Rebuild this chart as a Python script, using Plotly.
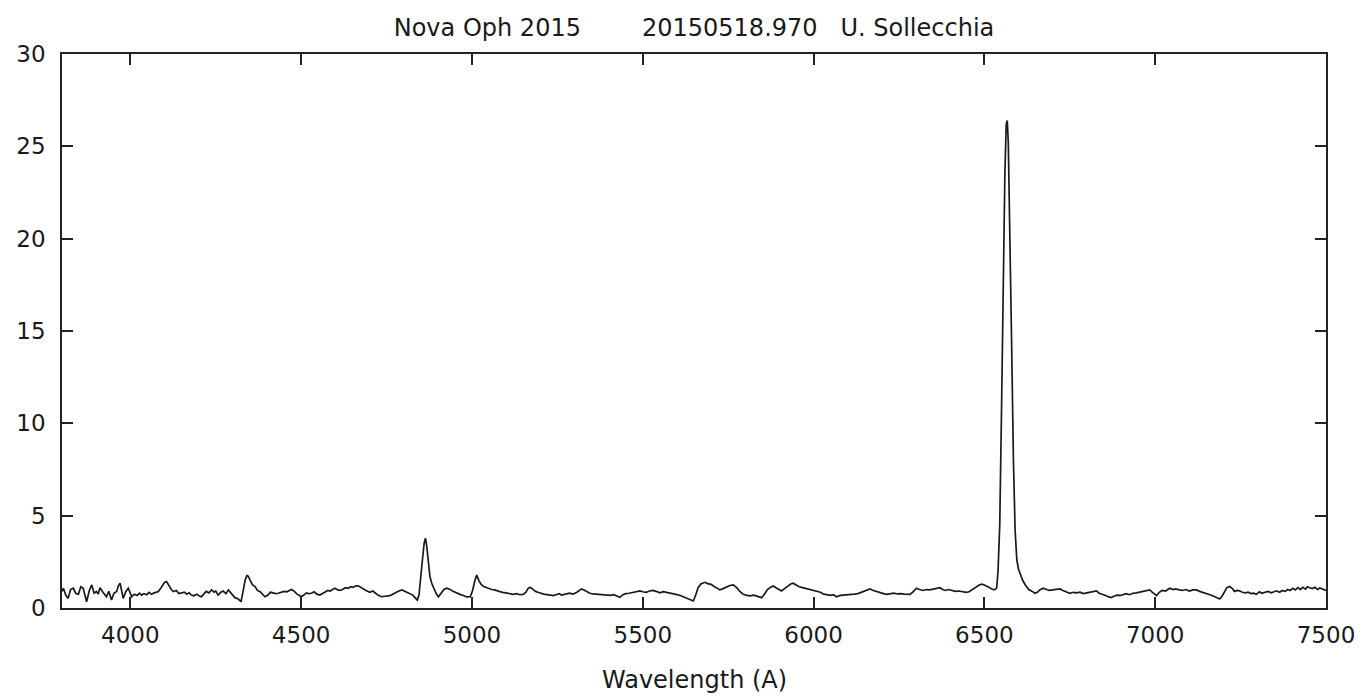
import plotly.graph_objects as go

wavelength = [
3800,3804,3811,3818,3825,3833,3840,3848,3855,3862,3867,3872,3880,3887,3894,3901,3906,3911,3920,3930,
3937,3945,3952,3960,3965,3970,3975,3979,3987,3994,3999,4004,4012,4020,4027,4033,4040,4048,4055,4062,
4070,4082,4090,4100,4106,4113,4120,4126,4135,4142,4150,4158,4165,4172,4179,4186,4195,4201,4208,4215,
4222,4230,4238,4245,4250,4257,4265,4272,4280,4287,4294,4300,4306,4315,4324,4330,4336,4341,4345,4352,
4358,4365,4372,4380,4387,4394,4403,4410,4418,4425,4433,4440,4450,4458,4465,4472,4480,4488,4495,4501,
4508,4515,4522,4530,4538,4546,4555,4562,4569,4578,4585,4592,4599,4607,4615,4622,4630,4638,4645,4652,
4660,4667,4675,4683,4690,4701,4710,4718,4725,4735,4745,4752,4760,4768,4777,4786,4795,4803,4811,4819,
4827,4834,4840,4845,4850,4855,4860,4864,4868,4872,4877,4883,4890,4896,4902,4910,4918,4926,4935,4943,
4950,4958,4965,4975,4985,4995,5002,5008,5014,5020,5026,5034,5042,5050,5058,5066,5074,5082,5090,5100,
5110,5121,5130,5140,5150,5158,5164,5170,5178,5186,5193,5199,5210,5220,5230,5238,5246,5255,5262,5270,
5277,5286,5295,5305,5314,5321,5328,5336,5345,5355,5365,5375,5385,5394,5405,5415,5425,5433,5442,5450,
5460,5470,5480,5492,5500,5510,5520,5530,5541,5550,5560,5570,5580,5590,5600,5610,5619,5630,5640,5648,
5655,5662,5670,5682,5690,5700,5710,5718,5726,5735,5745,5755,5765,5775,5785,5794,5805,5815,5825,5835,
5842,5848,5856,5865,5874,5882,5890,5898,5906,5915,5925,5933,5940,5948,5958,5968,5978,5990,5999,6010,
6020,6030,6040,6050,6058,6067,6078,6090,6100,6110,6120,6130,6140,6150,6160,6165,6175,6185,6195,6205,
6214,6225,6235,6245,6255,6265,6275,6282,6290,6301,6310,6320,6330,6340,6350,6360,6370,6378,6386,6395,
6405,6415,6425,6435,6447,6455,6465,6475,6485,6492,6500,6510,6518,6526,6532,6536,6540,6545,6550,6555,
6560,6564,6567,6570,6575,6580,6585,6590,6595,6600,6606,6612,6620,6630,6640,6648,6655,6662,6672,6680,
6690,6700,6710,6721,6730,6740,6750,6760,6770,6780,6790,6800,6810,6820,6828,6836,6845,6855,6864,6872,
6880,6890,6898,6906,6915,6925,6935,6945,6955,6965,6975,6984,6992,7000,7004,7012,7020,7030,7038,7043,
7052,7060,7070,7080,7090,7100,7110,7121,7130,7140,7150,7160,7170,7180,7189,7196,7203,7210,7218,7226,
7232,7240,7247,7255,7264,7272,7280,7288,7296,7305,7312,7320,7330,7340,7348,7355,7364,7372,7380,7388,
7395,7403,7410,7418,7425,7432,7440,7446,7452,7460,7468,7475,7482,7490,7496,7500,
]

flux = [
0.90,1.07,0.70,0.52,1.00,1.07,0.80,0.74,1.15,1.07,0.70,0.34,0.95,1.25,0.80,0.89,0.75,1.10,0.85,0.61,
0.90,0.43,0.80,0.90,1.20,1.34,0.90,0.52,0.90,1.07,0.85,0.61,0.75,0.68,0.80,0.70,0.78,0.72,0.85,0.74,
0.82,0.89,1.10,1.38,1.43,1.20,1.00,0.89,0.95,0.78,0.80,0.86,0.75,0.82,0.70,0.66,0.75,0.66,0.61,0.75,
0.90,0.82,0.98,0.86,0.92,0.70,0.85,0.92,0.78,0.98,0.80,0.70,0.56,0.50,0.34,0.90,1.50,1.75,1.72,1.45,
1.25,1.16,0.95,0.88,0.75,0.61,0.70,0.85,0.82,0.78,0.80,0.85,0.90,0.88,0.95,1.00,0.90,0.75,0.68,0.61,
0.70,0.82,0.78,0.80,0.88,0.75,0.70,0.80,0.85,0.95,0.92,1.00,1.07,0.98,0.95,1.02,1.10,1.07,1.15,1.12,
1.20,1.20,1.10,1.02,0.95,0.85,0.92,0.80,0.70,0.61,0.64,0.65,0.67,0.75,0.85,0.92,0.98,0.92,0.85,0.80,
0.70,0.55,0.43,0.70,1.50,2.60,3.50,3.78,3.30,2.40,1.70,1.30,1.00,0.75,0.61,0.80,1.00,1.07,1.02,0.92,
0.85,0.80,0.74,0.68,0.60,0.61,0.95,1.45,1.79,1.50,1.30,1.16,1.10,1.05,1.00,0.98,0.92,0.89,0.85,0.82,
0.75,0.74,0.78,0.72,0.74,0.85,1.05,1.12,1.02,0.90,0.85,0.80,0.75,0.72,0.70,0.67,0.72,0.78,0.70,0.74,
0.74,0.80,0.75,0.82,0.95,1.03,0.98,0.88,0.80,0.76,0.75,0.72,0.74,0.70,0.68,0.72,0.65,0.58,0.72,0.78,
0.80,0.85,0.88,0.93,0.88,0.85,0.92,0.95,0.89,0.82,0.88,0.85,0.80,0.76,0.72,0.68,0.61,0.52,0.45,0.38,
0.70,1.10,1.30,1.39,1.32,1.28,1.15,1.05,0.98,1.05,1.15,1.22,1.25,1.10,0.88,0.74,0.68,0.66,0.70,0.65,
0.60,0.56,0.75,1.00,1.12,1.19,1.10,1.00,0.92,1.05,1.20,1.30,1.34,1.25,1.15,1.10,1.05,1.00,0.98,0.90,
0.85,0.75,0.70,0.68,0.72,0.61,0.68,0.70,0.72,0.70,0.75,0.78,0.85,0.92,1.00,1.03,0.95,0.88,0.82,0.78,
0.74,0.78,0.80,0.76,0.78,0.75,0.72,0.74,0.85,1.07,1.00,0.95,1.00,0.98,1.02,1.08,1.10,1.00,0.95,1.00,
0.95,0.90,0.92,0.88,0.85,0.88,1.00,1.15,1.25,1.29,1.25,1.15,1.05,0.99,1.00,1.10,2.00,4.50,10.5,17.5,
23.5,26.2,26.4,25.2,20.5,14.0,8.00,4.20,2.60,2.10,1.80,1.50,1.25,1.00,0.90,0.80,0.85,0.98,1.07,1.00,
0.95,0.98,1.00,1.03,0.95,0.88,0.80,0.85,0.82,0.86,0.78,0.82,0.86,0.88,0.93,0.80,0.75,0.68,0.60,0.56,
0.65,0.70,0.68,0.74,0.78,0.72,0.80,0.82,0.86,0.88,0.92,0.98,0.85,0.70,0.67,0.85,0.95,0.92,1.00,1.07,
1.00,1.03,0.98,0.95,1.00,0.92,0.98,0.98,0.90,0.85,0.80,0.72,0.65,0.58,0.49,0.65,0.90,1.10,1.16,1.05,
0.90,0.95,0.93,0.85,0.82,0.86,0.78,0.80,0.74,0.88,0.80,0.85,0.90,0.82,0.90,0.93,0.85,0.95,0.90,1.00,
0.95,1.07,0.98,1.10,1.00,1.12,1.02,1.15,1.10,1.05,1.12,1.00,1.08,1.02,0.98,0.95,
]

title_parts = ["Nova Oph 2015", "20150518.970", "U. Sollecchia"]
title_text = ("\u00a0" * 8).join(title_parts[:2]) + "\u00a0" * 3 + title_parts[2]
x_label = "Wavelength (A)"
x_ticks = [4000, 4500, 5000, 5500, 6000, 6500, 7000, 7500]
y_ticks = [0, 5, 10, 15, 20, 25, 30]

FONT = "DejaVu Sans"
FS = 23
TXT = "#1a1a1a"
fig = go.Figure()
fig.add_trace(go.Scatter(x=wavelength, y=flux, mode="lines",
                         line=dict(color="#1a1a1a", width=1.7), showlegend=False))

W, H = 1367, 696
L, R, T, B = 62, 41, 54, 88

fig.update_layout(
    width=W, height=H,
    margin=dict(l=L, r=R, t=T, b=B),
    paper_bgcolor="white", plot_bgcolor="white",
    font=dict(family=FONT, size=FS, color=TXT),
    title=dict(text=title_text, x=(L + (W - L - R) / 2) / W, xanchor="center",
               y=1 - 28 / H, yanchor="middle", yref="container",
               font=dict(family=FONT, size=24, color=TXT)),
    xaxis=dict(range=[3800, 7500], tickvals=x_ticks, ticks="inside", ticklen=11,
               tickwidth=1.5, tickcolor="#222", showline=True, linecolor="#222",
               linewidth=1.5, mirror="ticks", showgrid=False, zeroline=False,
               ticklabelstandoff=6,
               tickfont=dict(family=FONT, size=FS, color=TXT)),
    yaxis=dict(range=[0, 30], tickvals=y_ticks, ticks="inside", ticklen=11,
               tickwidth=1.5, tickcolor="#222", showline=True, linecolor="#222",
               linewidth=1.5, mirror="ticks", showgrid=False, zeroline=False,
               ticklabelstandoff=10,
               tickfont=dict(family=FONT, size=FS, color=TXT)),
    annotations=[dict(text=x_label, xref="paper", yref="paper", x=0.5,
                      y=-(680 - (H - B)) / (H - T - B), xanchor="center",
                      yanchor="middle", showarrow=False,
                      font=dict(family=FONT, size=24, color=TXT))],
)

fig.write_html("out.html")
